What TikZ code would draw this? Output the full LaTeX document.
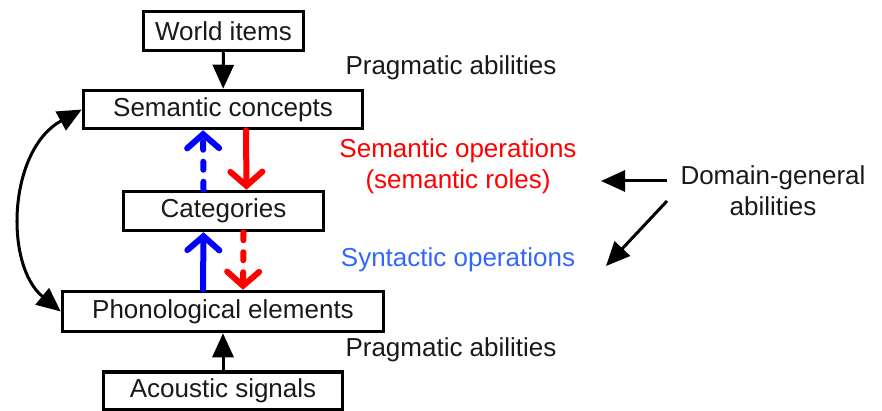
\documentclass[tikz,border=0pt]{standalone}
\usepackage{fontspec}
\setmainfont{Liberation Sans}
\usetikzlibrary{arrows.meta}
\definecolor{opred}{RGB}{255,0,0}
\definecolor{opblue}{RGB}{0,0,255}
\definecolor{synblue}{RGB}{51,102,255}
\definecolor{txtgray}{RGB}{25,25,25}
\begin{document}
\begin{tikzpicture}[x=1pt,y=-1pt,
  every node/.style={font=\fontsize{26pt}{31pt}\selectfont, text=txtgray},
  box/.style={draw=black, line width=3.5pt, inner sep=0pt, rectangle},
  bhead/.style={},
  blackarrow/.style={line width=3pt, -{Triangle[length=24pt,width=21pt]}},
  oparrow/.style={line width=6pt, line cap=round, -{Straight Barb[length=14pt,width=32pt,line cap=round]}},
  opdash/.style={dash pattern=on 8pt off 12pt}
]
\useasboundingbox (0,0) rectangle (882,411);
% boxes
\node[box, minimum width=160pt, minimum height=39pt] (world) at (223.5,31) {World items};
\node[box, minimum width=279pt, minimum height=38pt] (sem) at (223,109.5) {Semantic concepts};
\node[box, minimum width=200pt, minimum height=39pt] (cat) at (223.5,211) {Categories};
\node[box, minimum width=321pt, minimum height=40pt] (pho) at (223,311.5) {Phonological elements};
\node[box, minimum width=239pt, minimum height=38pt] (aco) at (223,391) {Acoustic signals};
% labels
\node (prag1) at (451,68) {Pragmatic abilities};
\node (prag2) at (451,350) {Pragmatic abilities};
\node[text=opred, align=center] (semop) at (458,166) {Semantic operations\\(semantic roles)};
\node[text=synblue] (synop) at (458,260) {Syntactic operations};
\node[align=center] (dg) at (773,191) {Domain-general\\abilities};
% black arrows
\draw[blackarrow] (world) -- (sem);
\draw[blackarrow] (aco) -- (pho);
\draw[line width=3pt, {Triangle[length=24pt,width=21pt]}-{Triangle[length=24pt,width=21pt]}]
  (sem.west) .. controls (8,150) and (4,265) .. (pho.west);
\coordinate (dgA) at (667,181);
\coordinate (dgB) at (667,201);
\draw[blackarrow] (dgA) -- (601,181);
\draw[blackarrow] (dgB) -- (606,266);
% operation arrows
\draw[oparrow, opblue, opdash] ([xshift=-20pt]cat.north) -- ([xshift=-20pt]sem.south);
\draw[oparrow, opred] ([xshift=23pt]sem.south) -- ([xshift=23pt]cat.north);
\draw[oparrow, opblue] ([xshift=-20pt]pho.north) -- ([xshift=-20pt]cat.south);
\draw[oparrow, opred, opdash] ([xshift=20pt]cat.south) -- ([xshift=20pt]pho.north);
\end{tikzpicture}
\end{document}
